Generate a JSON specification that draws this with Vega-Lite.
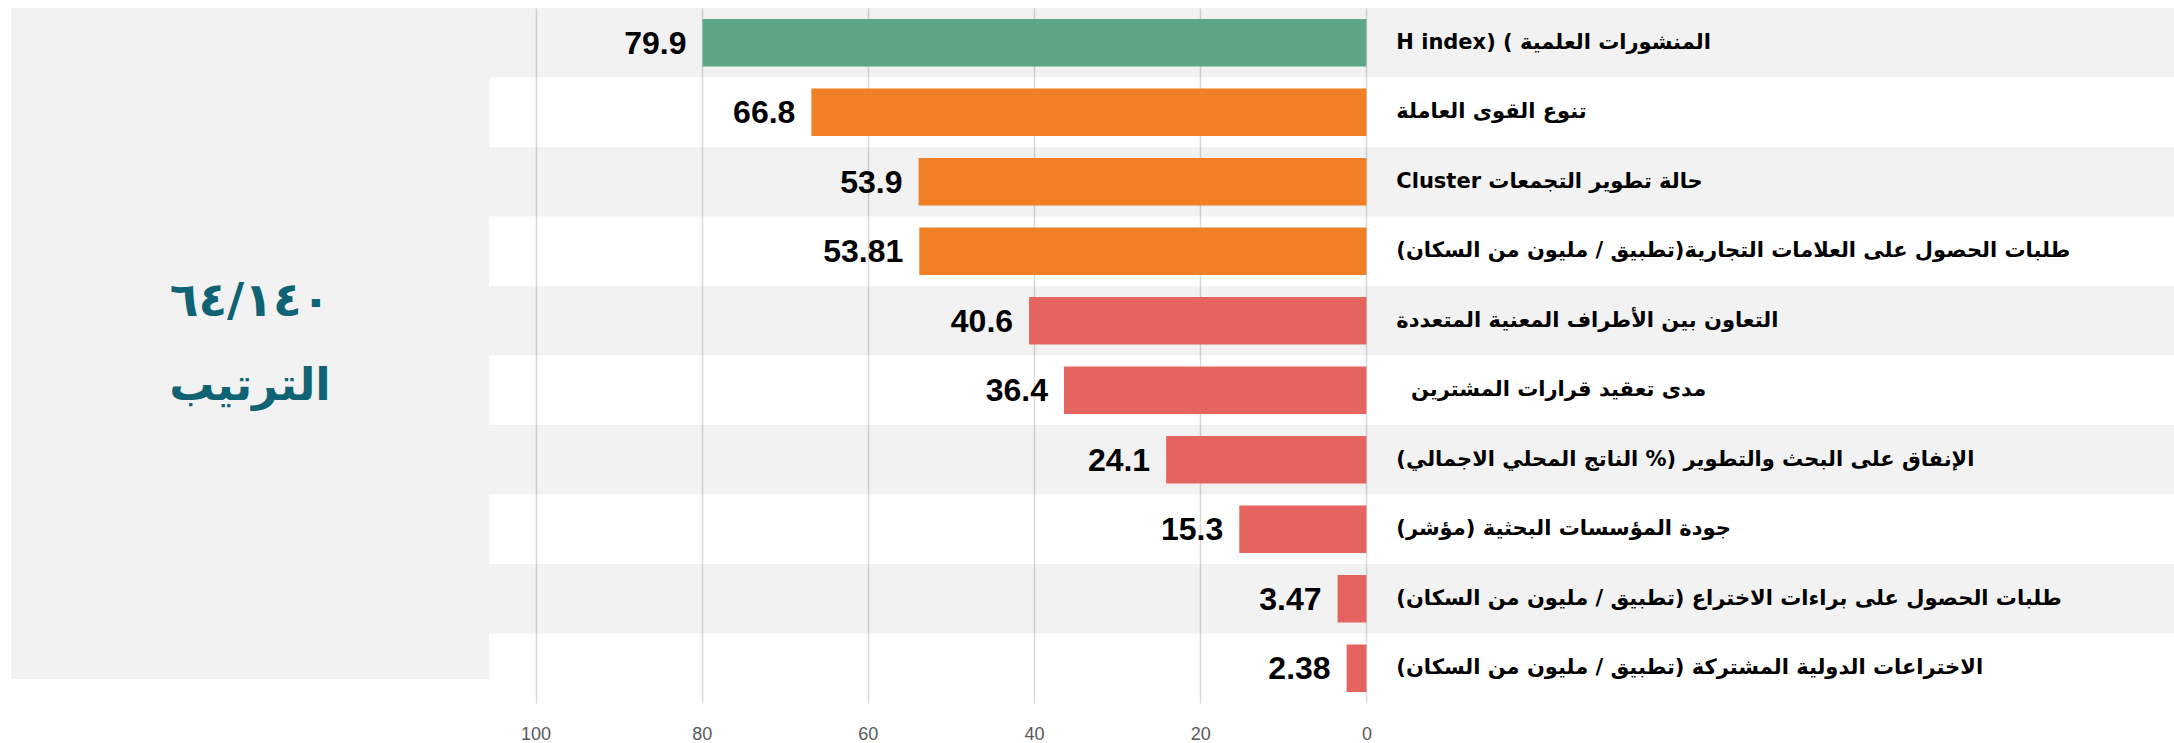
{
  "$schema": "https://vega.github.io/schema/vega-lite/v6.json",
  "padding": {"left": 11, "top": 7, "right": 0, "bottom": 0},
  "background": "white",
  "spacing": 0,
  "config": {"view": {"stroke": null}},
  "hconcat": [
    {
      "width": 478,
      "height": 671,
      "view": {"fill": "#f2f2f2", "stroke": null},
      "data": {"values": [{"rank": "٦٤/١٤٠", "title": "الترتيب"}]},
      "layer": [
        {
          "mark": {"type": "text", "font": "DejaVu Sans", "fontWeight": "bold", "fontSize": 47, "color": "#0f6374", "dy": -42, "baseline": "middle", "align": "center"},
          "encoding": {"text": {"field": "rank"}}
        },
        {
          "mark": {"type": "text", "font": "DejaVu Sans", "fontWeight": "bold", "fontSize": 45, "color": "#0f6374", "dy": 42, "baseline": "middle", "align": "center"},
          "encoding": {"text": {"field": "title"}}
        }
      ]
    },
    {
      "width": 1685,
      "height": 695,
      "data": {"values": [
        {"label": "المنشورات العلمية ) (H index", "value": 79.9, "shown": "79.9", "tier": "high"},
        {"label": "تنوع القوى العاملة", "value": 66.8, "shown": "66.8", "tier": "mid"},
        {"label": "حالة تطوير التجمعات Cluster", "value": 53.9, "shown": "53.9", "tier": "mid"},
        {"label": "طلبات الحصول على العلامات التجارية(تطبيق / مليون من السكان)", "value": 53.81, "shown": "53.81", "tier": "mid"},
        {"label": "التعاون بين الأطراف المعنية المتعددة", "value": 40.6, "shown": "40.6", "tier": "low"},
        {"label": "مدى تعقيد قرارات المشترين\u00a0\u00a0", "value": 36.4, "shown": "36.4", "tier": "low"},
        {"label": "الإنفاق على البحث والتطوير (% الناتج المحلي الاجمالي)", "value": 24.1, "shown": "24.1", "tier": "low"},
        {"label": "جودة المؤسسات البحثية (مؤشر)", "value": 15.3, "shown": "15.3", "tier": "low"},
        {"label": "طلبات الحصول على براءات الاختراع (تطبيق / مليون من السكان)", "value": 3.47, "shown": "3.47", "tier": "low"},
        {"label": "الاختراعات الدولية المشتركة (تطبيق / مليون من السكان)", "value": 2.38, "shown": "2.38", "tier": "low"}
      ]},
      "transform": [
        {"window": [{"op": "row_number", "as": "rn"}]},
        {"calculate": "'\u2067' + datum.label + '\u2069'", "as": "lbl"}
      ],
      "encoding": {
        "y": {"field": "label", "type": "nominal", "sort": null, "axis": null,
              "scale": {"paddingInner": 0.32, "paddingOuter": 0.16}}
      },
      "layer": [
        {
          "mark": {"type": "bar", "height": {"band": 1.4706}, "color": "black"},
          "encoding": {
            "x": {"datum": 105.6, "type": "quantitative",
                  "scale": {"domain": [-97.2, 105.6], "reverse": true, "nice": false, "zero": false},
                  "axis": {"values": [0, 20, 40, 60, 80, 100], "grid": true, "gridColor": "#d9d9d9", "gridWidth": 1.5,
                           "domain": false, "ticks": false, "labelPadding": 22, "labelFontSize": 18,
                           "labelFont": "Liberation Sans", "labelColor": "#595959", "title": null}},
            "x2": {"datum": -97.2},
            "opacity": {"condition": {"test": "datum.rn % 2 == 1", "value": 0.052}, "value": 0}
          }
        },
        {
          "mark": {"type": "bar"},
          "encoding": {
            "x": {"field": "value", "type": "quantitative"},
            "color": {"field": "tier", "type": "nominal", "legend": null,
                      "scale": {"domain": ["high", "mid", "low"], "range": ["#5ea685", "#f07f26", "#e4645f"]}}
          }
        },
        {
          "mark": {"type": "text", "align": "right", "baseline": "middle", "dx": -16, "dy": 1, "font": "Liberation Sans", "fontWeight": "bold", "fontSize": 32, "color": "black"},
          "encoding": {
            "x": {"field": "value", "type": "quantitative"},
            "text": {"field": "shown"}
          }
        },
        {
          "mark": {"type": "text", "align": "left", "baseline": "middle", "font": "DejaVu Sans", "fontWeight": "bold", "fontSize": 21, "color": "black"},
          "encoding": {
            "x": {"datum": -3.6, "type": "quantitative"},
            "text": {"field": "lbl"}
          }
        }
      ]
    }
  ]
}
